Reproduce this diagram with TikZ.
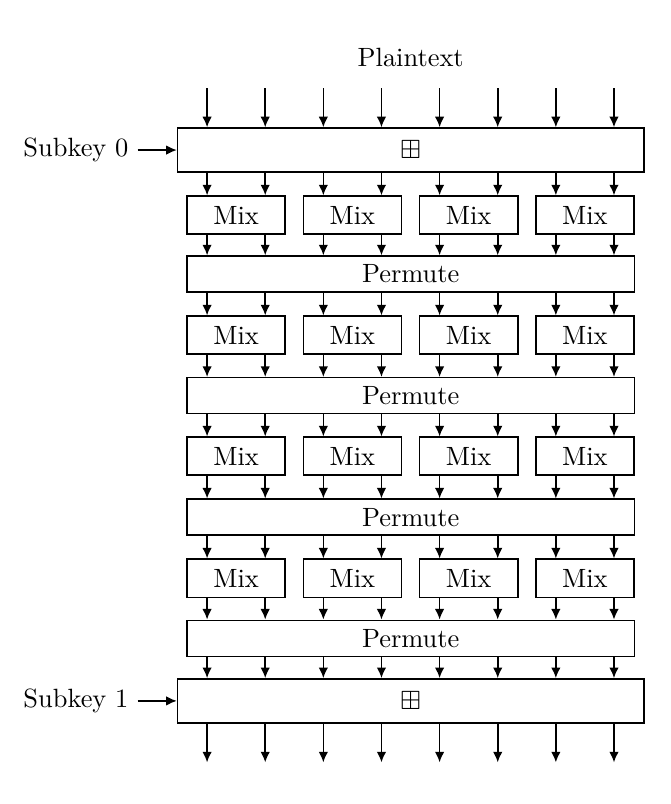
\documentclass[tikz,border=0pt]{standalone}
\usepackage{amssymb}
\usetikzlibrary{positioning,arrows.meta}
\begin{document}
\begin{tikzpicture}[
        keybox/.style={draw, black, line width=.6pt, minimum width=6.205cm, minimum height=.586cm, inner sep=0pt},
        mixbox/.style={draw, black, line width=.6pt, minimum width=1.305cm, minimum height=.506cm, inner sep=0pt},
        permbox/.style={draw, black, line width=.6pt, minimum width=5.952cm, minimum height=.479cm, inner sep=0pt},
        wire/.style={black, line width=.6pt, -{Latex[length=4pt,width=3.6pt]}}
    ]
        \useasboundingbox (0,0) rectangle (8.92,-10.70);

        \node (plain) at (5.466,-.759) {Plaintext};
        \node[keybox] (key0) at (5.466,-1.997) {$\boxplus$};
        \node[keybox] (key1) at (5.466,-9.328) {$\boxplus$};
        \node[left=.52cm of key0] (sk0) {Subkey 0};
        \node[left=.52cm of key1] (sk1) {Subkey 1};
        \draw[wire] (sk0) -- (key0);
        \draw[wire] (sk1) -- (key1);

        % mix and permute rounds
        \foreach \r/\ym/\yp in {1/-2.863/-3.648, 2/-4.461/-5.266, 3/-6.072/-6.884, 4/-7.696/-8.495} {
            \foreach \b in {0,...,3}
                \node[mixbox] (mix\r-\b) at (3.143+1.5472*\b,\ym) {Mix};
            \node[permbox] (perm\r) at (5.466,\yp) {Permute};
        }

        % lanes
        \foreach \i in {0,...,7} {
            \coordinate (lane\i) at (2.756+.7736*\i,-1.172);
            \coordinate (out\i) at (2.756+.7736*\i,-10.146);
            \draw[wire] (lane\i) -- (lane\i |- key0.north);
            \draw[wire] (out\i |- key1.south) -- (out\i);
        }
        \foreach \a/\b in {key0/mix1-0, mix1-0/perm1, perm1/mix2-0, mix2-0/perm2, perm2/mix3-0,
                           mix3-0/perm3, perm3/mix4-0, mix4-0/perm4, perm4/key1}
            \foreach \i in {0,...,7}
                \draw[wire] (lane\i |- \a.south) -- (lane\i |- \b.north);

    \end{tikzpicture}
\end{document}
